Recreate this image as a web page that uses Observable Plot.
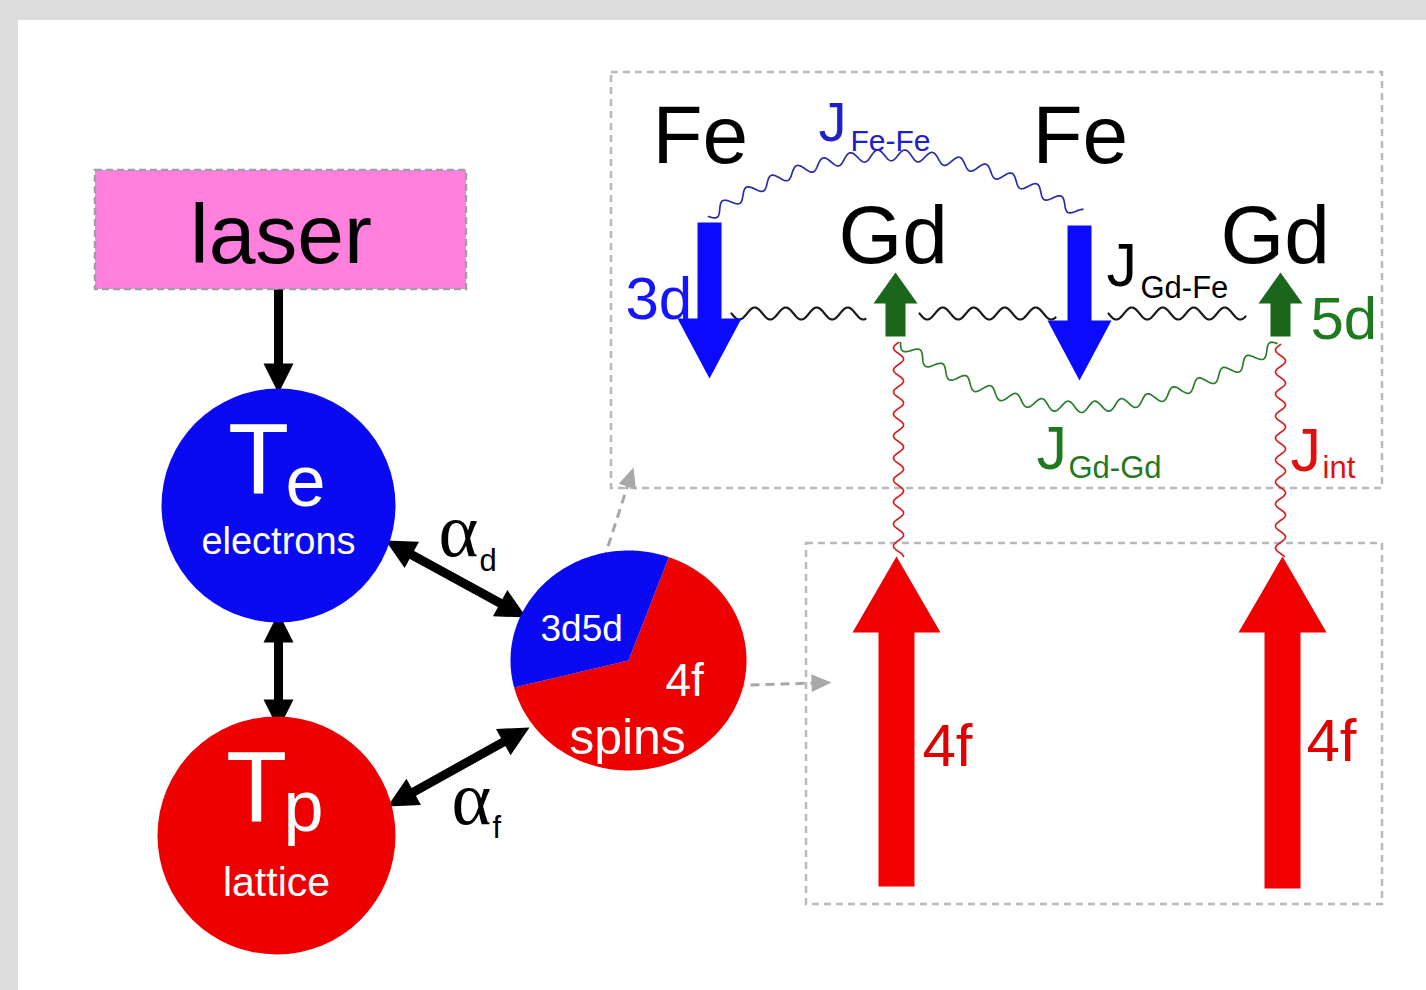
<!DOCTYPE html>
<html><head><meta charset="utf-8">
<script src="https://cdn.jsdelivr.net/npm/d3@7"></script>
<script src="https://cdn.jsdelivr.net/npm/@observablehq/plot@0.6"></script>
<style>html,body{margin:0;padding:0;background:#dcdcdc;overflow:hidden}#chart svg{display:block}</style>
</head><body><div id="chart"></div>
<script>
// ---------- data (diagram coordinates, y downward) ----------
const frame = [{x1: 18, y1: 20, x2: 1426, y2: 990}];
const laserBox = [{label: "laser", x1: 95, y1: 170, x2: 466, y2: 289}];
const dashedBoxes = [
  {name: "exchange", x1: 611, y1: 72, x2: 1382, y2: 488},
  {name: "4f moments", x1: 806, y1: 543, x2: 1382, y2: 904}
];
const baths = [
  {name: "Te", x: 278, y: 505, main: "T", sub: "e", caption: "electrons"},
  {name: "Tp", x: 276, y: 835, main: "T", sub: "p", caption: "lattice"}
];
const spins = {x: 628, y: 660, rx: 118, ry: 110, startDeg: -70};
const spinShares = [{part: "3d5d", share: 0.345}, {part: "4f", share: 0.655}];
const couplings = [
  {name: "laser-Te", from: [278, 289], to: [278, 393], heads: "end"},
  {name: "Te-Tp", from: [278, 612], to: [278, 729], heads: "both"},
  {name: "alpha_d", from: [385, 540], to: [526, 617], heads: "both"},
  {name: "alpha_f", from: [387, 806], to: [529, 727], heads: "both"}
];
const projections = [
  {from: [603, 560], to: [633, 467]},
  {from: [735, 685], to: [831, 682]}
];
const spinArrows3d = [{x: 709, tail: 222, tip: 378}, {x: 1079, tail: 225, tip: 380}];
const spinArrows5d = [{x: 895, tail: 336, tip: 272}, {x: 1280, tail: 336, tip: 272}];
const spinArrows4f = [{x: 896, tail: 886, tip: 556}, {x: 1282, tail: 888, tip: 556}];
const exchangeWaves = [
  {name: "Fe-Fe", color: "#2b2ba8", p0: [708, 216], c: [885, 95], p1: [1080, 213]},
  {name: "Gd-Gd", color: "#2a7d2a", p0: [900, 342], c: [1070, 470], p1: [1277, 344]},
  {name: "Gd-Fe a", color: "#1a1a1a", p0: [731, 313], c: [798, 313], p1: [865, 313]},
  {name: "Gd-Fe b", color: "#1a1a1a", p0: [919, 313], c: [987, 313], p1: [1055, 313]},
  {name: "Gd-Fe c", color: "#1a1a1a", p0: [1108, 313], c: [1176, 313], p1: [1245, 313]},
  {name: "int a", color: "#d42020", p0: [898, 342], c: [898, 450], p1: [898, 556]},
  {name: "int b", color: "#d42020", p0: [1280, 344], c: [1280, 450], p1: [1280, 556]}
];
const elementLabels = [
  {text: "Fe", x: 652, y: 162}, {text: "Fe", x: 1032, y: 162},
  {text: "Gd", x: 838, y: 262}, {text: "Gd", x: 1220, y: 262}
];
const jLabels = [
  {J: "J", sub: "Fe-Fe", x: 818, y: 140, sx: 850, sy: 150, color: "#2020c8"},
  {J: "J", sub: "Gd-Fe", x: 1106, y: 285, sx: 1140, sy: 297, color: "#000000"},
  {J: "J", sub: "Gd-Gd", x: 1036, y: 468, sx: 1068, sy: 477, color: "#1f7a1f"},
  {J: "J", sub: "int", x: 1290, y: 470, sx: 1322, sy: 477, color: "#e01010"}
];
const orbitalLabels = [
  {text: "3d", x: 625, y: 318, color: "#1414ff"},
  {text: "5d", x: 1310, y: 338, color: "#1e7a1e"},
  {text: "4f", x: 922, y: 765, color: "#e00000"},
  {text: "4f", x: 1306, y: 760, color: "#e00000"}
];
const alphaLabels = [
  {a: "α", sub: "d", x: 438, y: 555, sx: 479, sy: 570},
  {a: "α", sub: "f", x: 451, y: 823, sx: 492, sy: 837}
];

// ---------- geometry helpers ----------
const quad = (p0, c, p1) => t => [
  (1 - t) * (1 - t) * p0[0] + 2 * (1 - t) * t * c[0] + t * t * p1[0],
  (1 - t) * (1 - t) * p0[1] + 2 * (1 - t) * t * c[1] + t * t * p1[1]
];
function wavy(w, amp, wl, n = 500) {
  const f = quad(w.p0, w.c, w.p1);
  const base = d3.range(n + 1).map(i => f(i / n));
  let s = 0; const out = [];
  for (let i = 0; i <= n; i++) {
    if (i > 0) s += Math.hypot(base[i][0] - base[i - 1][0], base[i][1] - base[i - 1][1]);
    const a = base[Math.max(0, i - 1)], b = base[Math.min(n, i + 1)];
    const dx = b[0] - a[0], dy = b[1] - a[1], L = Math.hypot(dx, dy);
    const o = amp * Math.sin(2 * Math.PI * s / wl);
    out.push({id: w.name, color: w.color, x: base[i][0] - dy / L * o, y: base[i][1] + dx / L * o});
  }
  return out;
}
function headPoly(id, tip, from, len, hw) {
  const dx = tip[0] - from[0], dy = tip[1] - from[1], L = Math.hypot(dx, dy);
  const ux = dx / L, uy = dy / L;
  const bx = tip[0] - ux * len, by = tip[1] - uy * len;
  return [[tip[0], tip[1]], [bx - uy * hw, by + ux * hw], [bx + uy * hw, by - ux * hw]]
    .map(([x, y]) => ({id, x, y}));
}
function shaftEnds(c, len) {
  const dx = c.to[0] - c.from[0], dy = c.to[1] - c.from[1], L = Math.hypot(dx, dy);
  const ux = dx / L, uy = dy / L;
  const s = c.heads === "both" ? [c.from[0] + ux * len * 0.8, c.from[1] + uy * len * 0.8] : c.from;
  const e = [c.to[0] - ux * len * 0.8, c.to[1] - uy * len * 0.8];
  return {x1: s[0], y1: s[1], x2: e[0], y2: e[1]};
}
function fatArrow(id, a, sh, hh, hl) {
  const dir = a.tip < a.tail ? -1 : 1;
  const yb = a.tip - dir * hl;
  return [[a.x - sh, a.tail], [a.x + sh, a.tail], [a.x + sh, yb], [a.x + hh, yb], [a.x, a.tip],
          [a.x - hh, yb], [a.x - sh, yb]].map(([x, y]) => ({id, x, y}));
}
function sector(id, s0, s1) {
  const a0 = spins.startDeg * Math.PI / 180;
  const pts = [{id, x: spins.x, y: spins.y}];
  const n = 120;
  for (let i = 0; i <= n; i++) {
    const a = a0 - 2 * Math.PI * (s0 + (s1 - s0) * i / n);
    pts.push({id, x: spins.x + spins.rx * Math.cos(a), y: spins.y + spins.ry * Math.sin(a)});
  }
  return pts;
}

// ---------- derived mark data ----------
const shafts = couplings.map(c => ({name: c.name, ...shaftEnds(c, 30)}));
const blackHeads = couplings.flatMap(c => {
  const h = headPoly(c.name + "-end", c.to, c.from, 30, 15);
  return c.heads === "both" ? h.concat(headPoly(c.name + "-start", c.from, c.to, 30, 15)) : h;
});
const grayShafts = projections.map(p => shaftEnds({...p, heads: "end"}, 20));
const grayHeads = projections.flatMap((p, i) => headPoly("g" + i, p.to, p.from, 20, 9));
const blueArrows = spinArrows3d.flatMap((a, i) => fatArrow("b" + i, a, 12, 32, 60));
const greenArrows = spinArrows5d.flatMap((a, i) => fatArrow("g" + i, a, 10, 22, 31));
const redArrows = spinArrows4f.flatMap((a, i) => fatArrow("r" + i, a, 18, 44, 76));
let acc = 0;
const pie = spinShares.map(d => { const s0 = acc; acc += d.share; return {part: d.part, pts: sector(d.part, s0, acc)}; });
const waveStyle = n => n.startsWith("int") ? [5, 22] : n.startsWith("Gd-Fe") ? [6, 31] : [5.5, 27];
const waves = exchangeWaves.flatMap(w => wavy(w, ...waveStyle(w.name)));

const FONT = "Liberation Sans, Arial, Helvetica, sans-serif";
const txt = (data, o) => Plot.text(data, {lineAnchor: "bottom", fontFamily: FONT, ...o});

const chart = Plot.plot({
  width: 1426, height: 990, margin: 0,
  x: {type: "linear", domain: [0, 1426], range: [0, 1426], axis: null},
  y: {type: "linear", domain: [0, 990], range: [0, 990], axis: null},
  style: {background: "#dcdcdc", overflow: "visible"},
  marks: [
    Plot.rect(frame, {x1: "x1", x2: "x2", y1: "y1", y2: "y2", fill: "white"}),
    Plot.rect(dashedBoxes, {x1: "x1", x2: "x2", y1: "y1", y2: "y2", fill: "none", stroke: "#b8b8b8", strokeWidth: 2.5, strokeDasharray: "7,5"}),
    Plot.rect(laserBox, {x1: "x1", x2: "x2", y1: "y1", y2: "y2", fill: "#ff7fdc", stroke: "#a0a0a0", strokeWidth: 2.5, strokeDasharray: "7,4"}),
    // couplings
    Plot.link(shafts, {x1: "x1", y1: "y1", x2: "x2", y2: "y2", stroke: "black", strokeWidth: 9}),
    Plot.line(blackHeads, {x: "x", y: "y", z: "id", fill: "black", stroke: "none"}),
    Plot.link(grayShafts, {x1: "x1", y1: "y1", x2: "x2", y2: "y2", stroke: "#a8a8a8", strokeWidth: 3, strokeDasharray: "9,6"}),
    Plot.line(grayHeads, {x: "x", y: "y", z: "id", fill: "#a8a8a8", stroke: "none"}),
    // heat baths
    Plot.dot(baths.filter(d => d.name === "Te"), {x: "x", y: "y", r: 117, fill: "#0a0af2", stroke: "none"}),
    Plot.dot(baths.filter(d => d.name === "Tp"), {x: "x", y: "y", r: 119, fill: "#ee0000", stroke: "none"}),
    Plot.line(pie[1].pts, {x: "x", y: "y", fill: "#ee0000", stroke: "none"}),
    Plot.line(pie[0].pts, {x: "x", y: "y", fill: "#0a0af2", stroke: "none"}),
    txt(baths, {x: d => d.x - 20, y: d => d.y + (d.name === "Te" ? -13 : -15), text: "main", fill: "white", fontSize: 100, textAnchor: "middle"}),
    txt(baths, {x: d => d.x + 7, y: d => d.y + (d.name === "Te" ? 0 : -5), text: "sub", fill: "white", fontSize: 72, textAnchor: "start"}),
    txt(baths.filter(d => d.name === "Te"), {x: "x", y: d => d.y + 48, text: "caption", fill: "white", fontSize: 38, textAnchor: "middle"}),
    txt(baths.filter(d => d.name === "Tp"), {x: "x", y: d => d.y + 60, text: "caption", fill: "white", fontSize: 41, textAnchor: "middle"}),
    txt([spinShares[0]], {x: 540, y: 640, text: "part", fill: "white", fontSize: 37, textAnchor: "start"}),
    txt([spinShares[1]], {x: 665, y: 695, text: "part", fill: "white", fontSize: 46, textAnchor: "start"}),
    txt(["spins"], {x: 627, y: 753, text: d => d, fill: "white", fontSize: 50, textAnchor: "middle"}),
    txt(laserBox, {x: d => (d.x1 + d.x2) / 2, y: 262, text: "label", fill: "black", fontSize: 84, textAnchor: "middle"}),
    txt(alphaLabels, {x: "x", y: "y", text: "a", fill: "black", fontSize: 76, fontFamily: "Liberation Serif, DejaVu Serif, serif", textAnchor: "start"}),
    txt(alphaLabels, {x: "sx", y: "sy", text: "sub", fill: "black", fontSize: 31, textAnchor: "start"}),
    // exchange waves
    ...exchangeWaves.map(w => Plot.line(waves.filter(d => d.id === w.name), {x: "x", y: "y", stroke: w.color, strokeWidth: w.name.startsWith("Gd-Fe") ? 2.2 : 1.7})),
    // spin arrows
    Plot.line(blueArrows, {x: "x", y: "y", z: "id", fill: "#0a0aff", stroke: "none"}),
    Plot.line(greenArrows, {x: "x", y: "y", z: "id", fill: "#1a661a", stroke: "none"}),
    Plot.line(redArrows, {x: "x", y: "y", z: "id", fill: "#f00000", stroke: "none"}),
    // labels
    txt(elementLabels, {x: "x", y: "y", text: "text", fill: "black", fontSize: 82, textAnchor: "start"}),
    ...jLabels.map(d => txt([d], {x: "x", y: "y", text: "J", fill: d.color, fontSize: d.sub === "Fe-Fe" ? 56 : 61, textAnchor: "start"})),
    ...jLabels.map(d => txt([d], {x: "sx", y: "sy", text: "sub", fill: d.color, fontSize: d.sub === "Fe-Fe" ? 30 : 31, textAnchor: "start"})),
    ...orbitalLabels.map(d => txt([d], {x: "x", y: "y", text: "text", fill: d.color, fontSize: 60, textAnchor: "start"}))
  ]
});
document.getElementById("chart").append(chart);
</script>
</body></html>
